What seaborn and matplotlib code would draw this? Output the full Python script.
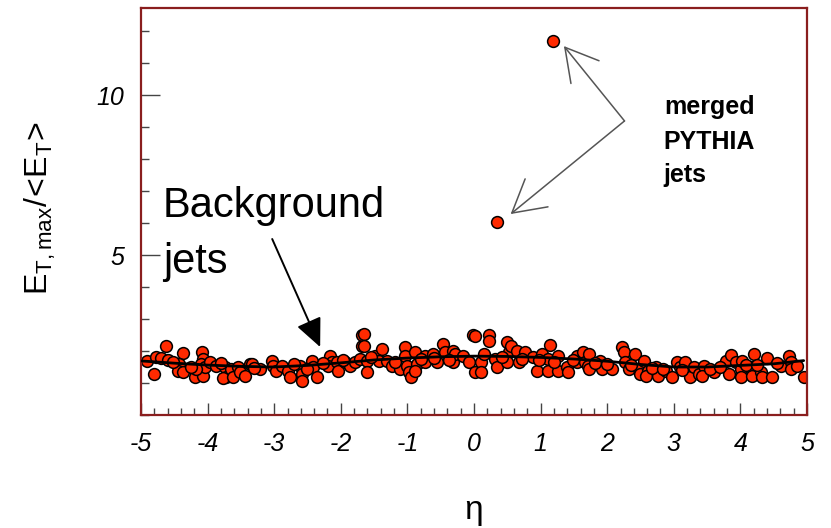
import matplotlib
matplotlib.use("Agg")
import matplotlib.pyplot as plt
import seaborn as sns
import pandas as pd
from matplotlib.ticker import MultipleLocator

# ---- data ----
eta = [-4.91, -4.80, -4.77, -4.70, -4.59, -4.62, -4.37, -4.43, -4.44, -4.37, -4.19, -4.07,
       -4.08, -4.07, -4.10, -4.04, -4.17, -3.96, -3.87, -3.74, -3.72, -3.77, -3.65, -3.62,
       -3.54, -3.51, -3.44, -3.36,
       -3.33, -3.21, -3.03, -3.02, -2.98, -2.88, -2.80, -2.76, -2.61, -2.58, -2.58, -2.43,
       -2.41, -2.35, -2.16, -2.13, -2.19, -2.05, -2.04, -1.93, -1.86, -1.78, -1.71, -1.68, -1.68,
       -1.65, -1.65, -1.60, -1.60, -1.48, -1.42, -1.38, -1.30, -1.23, -1.11, -1.03, -1.03,
       -1.00, -0.97, -0.95, -0.89, -0.85, -0.88, -0.74, -0.73, -0.62, -0.55, -0.47, -0.44,
       -0.32, -0.32, -0.28, -0.17, -0.07, -0.02, 0.02,
       0.01, 0.22, 0.23, 0.11, 0.11, 0.31, 0.35, 0.50, 0.53, 0.56, 0.50, 0.64, 0.68, 0.76,
       0.88, 0.94, 1.02, 1.14, 1.11, 1.11, 1.26, 1.26, 1.39, 1.41, 1.54, 1.54, 1.63, 1.66, 1.71,
       1.72, 1.72, 1.89, 1.92, 2.07, 2.22, 2.25, 2.26, 2.32, 2.41, 2.47, 2.49, 2.56, 2.62,
       2.59, 2.74, 2.77, 2.89, 2.97, 3.05, 3.09, 3.17, 3.24, 3.30, 3.38,
       3.45, 3.42, 3.60, 3.78, 3.86, 3.83, 3.93, 4.01, 4.02, 4.01, 4.16, 4.17, 4.20, 4.31,
       4.32, 4.40, 4.47, 4.61, 4.73, 4.76, 4.76, 4.95,
       -4.52, -4.25, -3.80, -3.30, -2.70, -2.50, -2.27, -1.97, -1.55, -1.18, -0.80, -0.60,
       -0.38, 0.15, 0.42, 0.72, 0.98, 1.20, 1.48, 1.82, 2.00, 2.36, 2.68, 2.84, 3.12, 3.55,
       3.70, 4.08, 4.25, 4.55, 4.85,
       1.18, 0.35]
ratio = [1.69, 1.28, 1.81, 1.78, 1.72, 2.16, 1.94, 1.59, 1.38, 1.34, 1.19, 1.22,
         1.97, 1.75, 1.59, 1.50, 1.44, 1.66, 1.53, 1.50, 1.19, 1.16, 1.44, 1.19,
         1.50, 1.34, 1.22, 1.59,
         1.59, 1.44, 1.69, 1.53, 1.38, 1.53, 1.38, 1.19, 1.53, 1.28, 1.06, 1.69,
         1.50, 1.19, 1.84, 1.66, 1.53, 1.66, 1.38, 1.66, 1.53, 1.66, 1.75, 2.16, 2.50,
         2.53, 2.16, 1.69, 1.34, 1.84, 1.69, 2.06, 1.69, 1.53, 1.44, 2.13, 1.84,
         1.53, 1.34, 1.19, 1.97, 1.59, 1.38, 1.84, 1.66, 1.91, 1.66, 2.22, 1.97,
         2.00, 1.66, 1.91, 1.84, 1.66, 2.50, 1.34,
         2.47, 2.50, 2.31, 1.66, 1.34, 1.75, 1.50, 2.28, 1.97, 2.16, 1.66, 2.00, 1.66, 1.97,
         1.81, 1.38, 1.91, 2.19, 1.75, 1.38, 1.84, 1.38, 1.50, 1.34, 1.84, 1.66, 1.97, 1.66, 1.53,
         1.91, 1.44, 1.69, 1.44, 1.44, 2.13, 1.97, 1.66, 1.44, 1.91, 1.44, 1.28, 1.69, 1.38,
         1.22, 1.50, 1.22, 1.38, 1.19, 1.66, 1.50, 1.66, 1.19, 1.50, 1.28,
         1.53, 1.22, 1.34, 1.69, 1.88, 1.28, 1.66, 1.44, 1.69, 1.19, 1.50, 1.22, 1.91, 1.34,
         1.19, 1.78, 1.19, 1.53, 1.84, 1.66, 1.44, 1.19,
         1.66, 1.50, 1.62, 1.47, 1.60, 1.44, 1.62, 1.72, 1.80, 1.66, 1.75, 1.78,
         1.72, 1.90, 1.82, 1.75, 1.72, 1.66, 1.72, 1.62, 1.60, 1.56, 1.47, 1.44, 1.41, 1.44,
         1.50, 1.56, 1.56, 1.62, 1.53,
         11.69, 6.03]

fit_eta = [-5.0, -4.5, -4.0, -3.5, -3.0, -2.5, -2.0, -1.5, -1.0, -0.5, 0.0,
           0.5, 1.0, 1.5, 2.0, 2.5, 3.0, 3.5, 4.0, 4.5, 4.95]
fit_val = [1.69, 1.62, 1.56, 1.52, 1.50, 1.55, 1.63, 1.72, 1.78, 1.82, 1.84,
           1.83, 1.80, 1.75, 1.68, 1.58, 1.50, 1.50, 1.55, 1.60, 1.70]

x_ticks = [-5, -4, -3, -2, -1, 0, 1, 2, 3, 4, 5]
y_ticks = [5, 10]

pts = pd.DataFrame({"eta": eta, "ratio": ratio})
fit = pd.DataFrame({"eta": fit_eta, "ratio": fit_val})

sns.set_style("white")
plt.rcParams["font.family"] = ["Liberation Sans", "DejaVu Sans"]
plt.rcParams["text.color"] = "black"
plt.rcParams["xtick.labelcolor"] = "black"
plt.rcParams["ytick.labelcolor"] = "black"
plt.rcParams["mathtext.fontset"] = "custom"
plt.rcParams["mathtext.rm"] = "Liberation Sans"
plt.rcParams["mathtext.it"] = "Liberation Sans"

fig = plt.figure(figsize=(8.31, 5.28), dpi=100)
ax = fig.add_axes([141 / 831, 1 - 415 / 528, (807 - 141) / 831, (415 - 8) / 528])

sns.scatterplot(data=pts, x="eta", y="ratio", ax=ax, color="#ff2a00", edgecolor="black",
                linewidth=1.1, s=72, zorder=2, legend=False)
sns.lineplot(data=fit, x="eta", y="ratio", ax=ax, color="black", lw=2.0, zorder=3)

ax.set_xlim(-5, 5)
ax.set_ylim(0, 12.72)
ax.set_xticks(x_ticks)
ax.set_xticklabels([str(v) for v in x_ticks])
ax.set_yticks(y_ticks)
ax.set_yticklabels([str(v) for v in y_ticks])
ax.xaxis.set_minor_locator(MultipleLocator(0.2))
ax.yaxis.set_minor_locator(MultipleLocator(1))
ax.tick_params(which="both", direction="in", color="#444444", width=1.0,
               bottom=True, left=True, top=False, right=False)
ax.tick_params(axis="x", which="major", length=9, pad=12, labelsize=18)
ax.tick_params(axis="x", which="minor", length=5)
ax.tick_params(axis="y", which="major", length=14, pad=12, labelsize=18)
ax.tick_params(axis="y", which="minor", length=6)
for lab in ax.get_xticklabels() + ax.get_yticklabels():
    lab.set_fontstyle("italic")
    lab.set_color("black")
ax.set_xlabel("")
ax.set_ylabel("")
for sp in ax.spines.values():
    sp.set_color("#8a1e1e")
    sp.set_linewidth(1.6)

fig.text(474 / 831, 1 - 510 / 528, "η", fontsize=24, ha="center", va="center", color="black")
fig.text(40 / 831, 1 - 208 / 528, r"$\mathregular{E_{T,max}/\!<\!E_T\!>}$", fontsize=23,
         rotation=90, ha="center", va="center", color="black")

ax.text(-4.67, 6.19, "Background", fontsize=30, ha="left", va="baseline", color="black")
ax.text(-4.67, 4.44, "jets", fontsize=30, ha="left", va="baseline", color="black")
ax.annotate("", xy=(-2.31, 2.125), xytext=(-3.03, 5.5),
            arrowprops=dict(arrowstyle="-|>,head_length=1.1,head_width=0.5",
                            mutation_scale=16, color="black", lw=1.4,
                            shrinkA=0, shrinkB=0))

for txt, yv in [("merged", 9.41), ("PYTHIA", 8.31), ("jets", 7.28)]:
    ax.text(2.85, yv, txt, fontsize=18, fontweight="bold", ha="left", va="baseline",
            color="black")
for tip in [(1.35, 11.53), (0.55, 6.28)]:
    ax.annotate("", xy=tip, xytext=(2.26, 9.19),
                arrowprops=dict(arrowstyle="->,head_length=1.15,head_width=0.65",
                                mutation_scale=20, color="#555555", lw=1.1,
                                shrinkA=0, shrinkB=0))

fig.savefig("out.png", dpi=100)
